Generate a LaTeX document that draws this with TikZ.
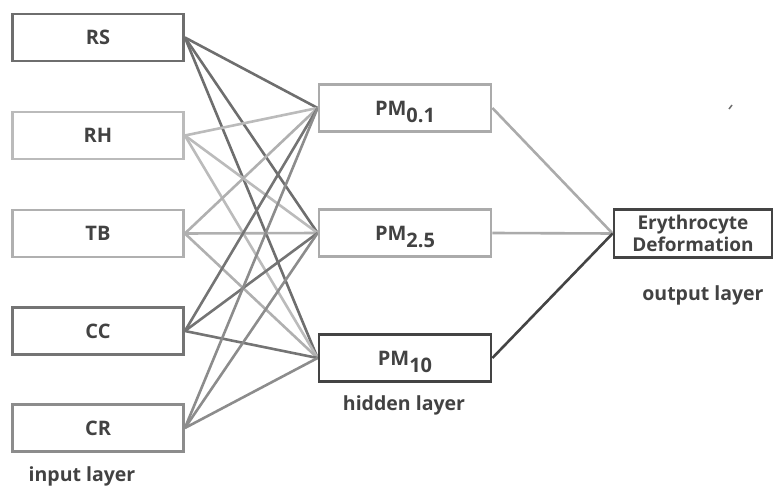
\documentclass[tikz,border=0pt]{standalone}
\usepackage{fontspec}
\setmainfont{Open Sans}
\usetikzlibrary{backgrounds}
\begin{document}
\begin{tikzpicture}[x=1pt,y=-1pt,
  box/.style={draw, line width=2.8pt, fill=white, minimum width=171pt, minimum height=47pt, inner sep=0pt, font=\bfseries\fontsize{20}{22}\selectfont, text=txt},
  hbox/.style={box, minimum width=172pt},
  obox/.style={box, minimum width=158pt, minimum height=48pt, align=center, font=\bfseries\fontsize{19}{22}\selectfont},
  conn/.style={line width=2.6pt},
  lbl/.style={font=\bfseries\fontsize{19.5}{22}\selectfont, text=txt}]
\definecolor{txt}{HTML}{424242}
\definecolor{cRS}{HTML}{6E6E6E}
\definecolor{cRH}{HTML}{BBBBBB}
\definecolor{cTB}{HTML}{B0B0B0}
\definecolor{cCC}{HTML}{747474}
\definecolor{cCR}{HTML}{8C8C8C}
\definecolor{cLight}{HTML}{ABABAB}
\definecolor{cDark}{HTML}{444444}
\useasboundingbox (0,0) rectangle (774,489);
% input layer
\node[box, draw=cRS] (rs) at (98,37.5) {RS};
\node[box, draw=cRH] (rh) at (98,135.5) {RH};
\node[box, draw=cTB] (tb) at (98,233.5) {TB};
\node[box, draw=cCC] (cc) at (98,331) {CC};
\node[box, draw=cCR] (cr) at (98,428) {CR};
% hidden layer
\node[hbox, draw=cLight] (h1) at (405,108) {PM\raisebox{-7pt}[0pt][0pt]{0.1}};
\node[hbox, draw=cLight] (h2) at (405,233) {PM\raisebox{-7pt}[0pt][0pt]{2.5}};
\node[hbox, draw=cDark] (h3) at (405,358) {PM\raisebox{-7pt}[0pt][0pt]{10}};
% output
\node[obox, draw=cDark] (out) at (693,233.5) {Erythrocyte\\Deformation};
% connections
\begin{scope}[on background layer]
\foreach \s/\c in {rs/cRS, rh/cRH, tb/cTB, cc/cCC, cr/cCR} {
  \foreach \h in {h1,h2,h3} {
    \draw[conn, draw=\c] (\s.east) -- (\h.west);
  }
}
\draw[conn, draw=cLight] (h1.east) -- (out.west);
\draw[conn, draw=cLight] (h2.east) -- (out.west);
\draw[conn, draw=cDark] (h3.east) -- (out.west);
\end{scope}
% labels
\node[lbl] (il) at (82,476) {input layer};
\node[lbl] (hl) at (404,405) {hidden layer};
\node[lbl] (ol) at (703,295) {output layer};
\coordinate (m1) at (729,109);
\coordinate (m2) at (732,105);
\draw[line width=1.5pt, cRS] (m1) -- (m2);
\end{tikzpicture}
\end{document}
